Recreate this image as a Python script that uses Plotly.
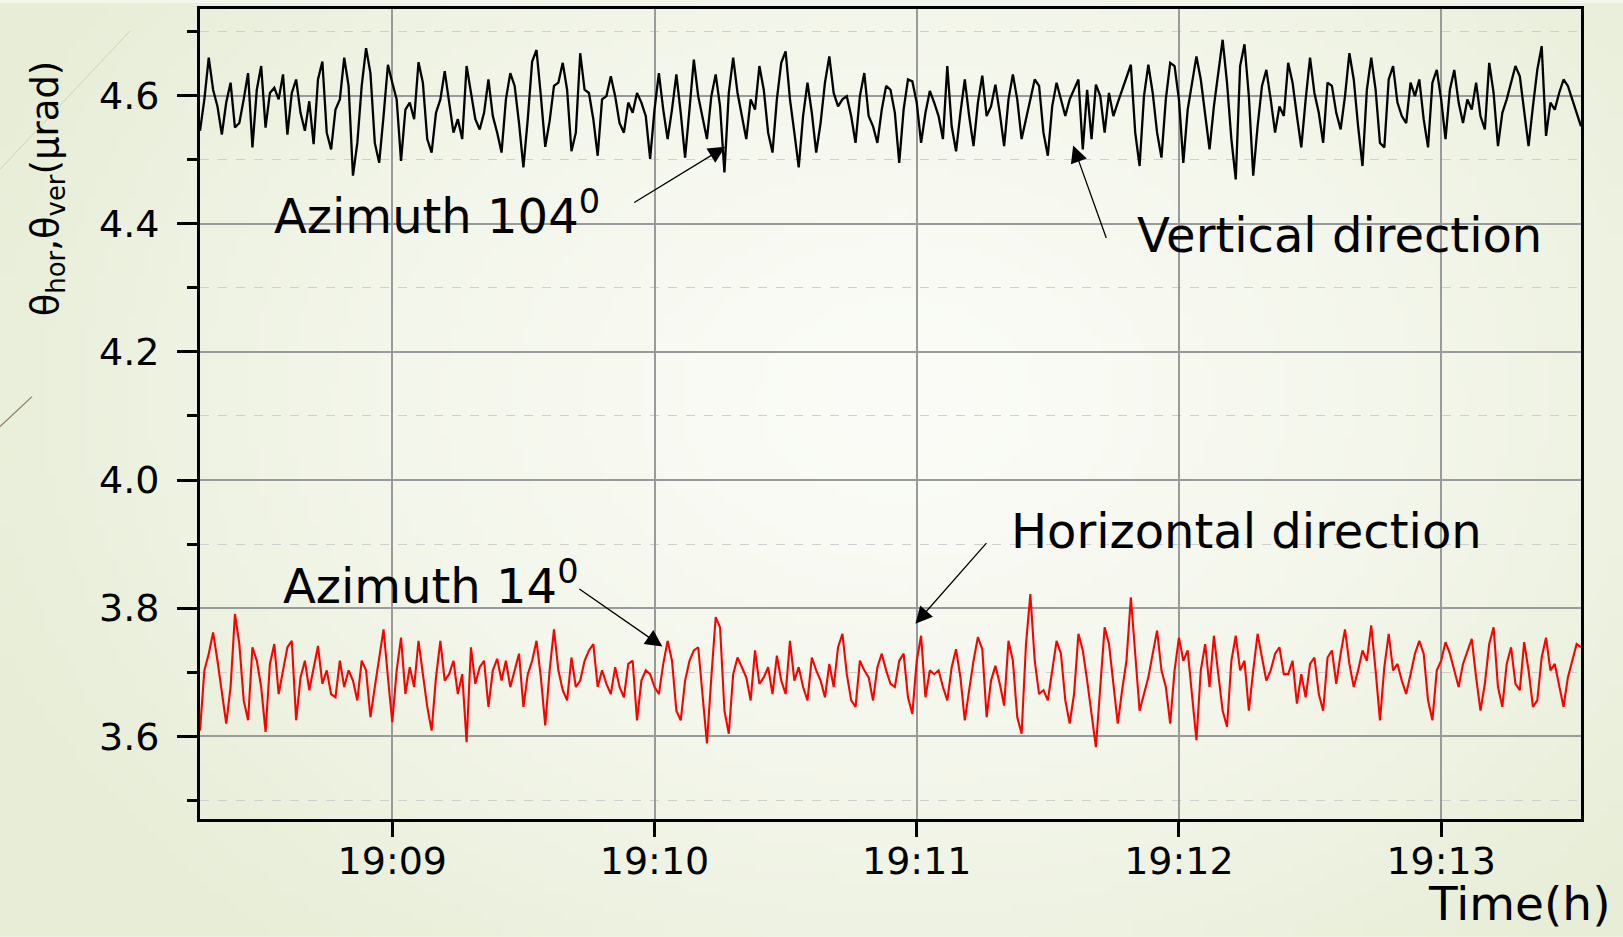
import base64
import struct
import zlib
from datetime import datetime, timedelta

import numpy as np
import pandas as pd
import plotly.graph_objects as go

# ---------------- data (1 s sampling) ----------------
start_time = "2000-01-01 19:08:16"

vertical_dir = [  # theta_ver, black trace (urad)
    4.545, 4.594, 4.659, 4.609, 4.583, 4.539, 4.589, 4.620, 4.550, 4.557,
    4.594, 4.635, 4.519, 4.609, 4.646, 4.550, 4.604, 4.612, 4.594, 4.633,
    4.539, 4.604, 4.625, 4.573, 4.545, 4.591, 4.524, 4.625, 4.653, 4.542,
    4.516, 4.578, 4.594, 4.659, 4.615, 4.475, 4.526, 4.615, 4.674, 4.635,
    4.526, 4.495, 4.568, 4.648, 4.620, 4.594, 4.498, 4.578, 4.589, 4.563,
    4.652, 4.620, 4.532, 4.511, 4.573, 4.594, 4.638, 4.589, 4.542, 4.563,
    4.532, 4.646, 4.607, 4.563, 4.547, 4.573, 4.625, 4.568, 4.542, 4.511,
    4.594, 4.635, 4.615, 4.557, 4.488, 4.563, 4.653, 4.671, 4.599, 4.520,
    4.560, 4.615, 4.620, 4.651, 4.609, 4.513, 4.542, 4.666, 4.609, 4.604,
    4.563, 4.506, 4.594, 4.599, 4.630, 4.599, 4.557, 4.542, 4.589, 4.573,
    4.604, 4.589, 4.568, 4.501, 4.578, 4.635, 4.578, 4.532, 4.578, 4.633,
    4.573, 4.503, 4.578, 4.656, 4.599, 4.563, 4.532, 4.599, 4.633, 4.583,
    4.480, 4.604, 4.659, 4.604, 4.568, 4.532, 4.594, 4.578, 4.646, 4.609,
    4.542, 4.511, 4.594, 4.651, 4.669, 4.594, 4.542, 4.488, 4.568, 4.620,
    4.573, 4.511, 4.557, 4.620, 4.661, 4.604, 4.583, 4.594, 4.599, 4.568,
    4.526, 4.599, 4.635, 4.568, 4.552, 4.526, 4.578, 4.615, 4.609, 4.573,
    4.495, 4.578, 4.625, 4.622, 4.589, 4.526, 4.573, 4.607, 4.589, 4.568,
    4.532, 4.646, 4.552, 4.513, 4.573, 4.625, 4.568, 4.521, 4.589, 4.631,
    4.568, 4.583, 4.617, 4.573, 4.521, 4.594, 4.633, 4.594, 4.532, 4.563,
    4.589, 4.625, 4.615, 4.542, 4.506, 4.583, 4.620, 4.594, 4.568, 4.594,
    4.609, 4.625, 4.516, 4.609, 4.532, 4.617, 4.599, 4.542, 4.604, 4.568,
    4.589, 4.609, 4.630, 4.648, 4.542, 4.490, 4.599, 4.648, 4.604, 4.542,
    4.503, 4.594, 4.651, 4.646, 4.594, 4.495, 4.578, 4.620, 4.661, 4.625,
    4.568, 4.516, 4.583, 4.635, 4.687, 4.620, 4.532, 4.469, 4.646, 4.680,
    4.599, 4.475, 4.552, 4.615, 4.640, 4.594, 4.542, 4.583, 4.568, 4.651,
    4.620, 4.568, 4.519, 4.594, 4.659, 4.604, 4.573, 4.526, 4.620, 4.615,
    4.573, 4.547, 4.599, 4.666, 4.625, 4.552, 4.490, 4.609, 4.659, 4.609,
    4.526, 4.519, 4.625, 4.646, 4.589, 4.568, 4.557, 4.620, 4.599, 4.625,
    4.563, 4.519, 4.620, 4.640, 4.594, 4.532, 4.609, 4.640, 4.589, 4.557,
    4.594, 4.578, 4.620, 4.568, 4.547, 4.651, 4.604, 4.521, 4.573, 4.594,
    4.620, 4.646, 4.630, 4.578, 4.521, 4.583, 4.640, 4.677, 4.537, 4.589,
    4.578, 4.604, 4.625, 4.615, 4.594, 4.573, 4.552,
]

horizontal_dir = [  # theta_hor, red trace (urad)
    3.609, 3.703, 3.729, 3.762, 3.718, 3.666, 3.620, 3.677, 3.791, 3.744,
    3.656, 3.625, 3.739, 3.718, 3.677, 3.607, 3.713, 3.744, 3.666, 3.703,
    3.739, 3.749, 3.625, 3.692, 3.718, 3.672, 3.708, 3.741, 3.682, 3.703,
    3.666, 3.661, 3.718, 3.677, 3.703, 3.687, 3.656, 3.718, 3.703, 3.630,
    3.677, 3.723, 3.767, 3.692, 3.622, 3.703, 3.754, 3.666, 3.708, 3.677,
    3.749, 3.697, 3.646, 3.609, 3.692, 3.749, 3.687, 3.697, 3.718, 3.666,
    3.697, 3.591, 3.739, 3.682, 3.708, 3.718, 3.646, 3.703, 3.721, 3.687,
    3.718, 3.677, 3.703, 3.729, 3.646, 3.697, 3.718, 3.749, 3.692, 3.617,
    3.703, 3.767, 3.703, 3.672, 3.656, 3.723, 3.677, 3.687, 3.718, 3.734,
    3.744, 3.677, 3.703, 3.682, 3.666, 3.708, 3.677, 3.661, 3.713, 3.718,
    3.625, 3.687, 3.703, 3.697, 3.677, 3.666, 3.713, 3.749, 3.718, 3.640,
    3.625, 3.687, 3.718, 3.734, 3.739, 3.666, 3.589, 3.692, 3.786, 3.770,
    3.640, 3.604, 3.697, 3.723, 3.708, 3.692, 3.656, 3.734, 3.682, 3.692,
    3.708, 3.666, 3.726, 3.687, 3.666, 3.749, 3.687, 3.708, 3.677, 3.656,
    3.723, 3.703, 3.687, 3.661, 3.713, 3.677, 3.739, 3.760, 3.697, 3.656,
    3.646, 3.718, 3.703, 3.692, 3.656, 3.708, 3.729, 3.703, 3.682, 3.677,
    3.718, 3.729, 3.661, 3.635, 3.718, 3.757, 3.661, 3.703, 3.697, 3.703,
    3.677, 3.656, 3.708, 3.736, 3.692, 3.625, 3.672, 3.718, 3.755, 3.736,
    3.630, 3.687, 3.710, 3.682, 3.648, 3.749, 3.718, 3.630, 3.604, 3.744,
    3.822, 3.718, 3.666, 3.672, 3.656, 3.703, 3.749, 3.729, 3.656, 3.620,
    3.666, 3.760, 3.734, 3.687, 3.635, 3.583, 3.677, 3.770, 3.744, 3.677,
    3.620, 3.672, 3.718, 3.817, 3.734, 3.640, 3.666, 3.692, 3.729, 3.765,
    3.703, 3.677, 3.620, 3.703, 3.754, 3.718, 3.734, 3.666, 3.594, 3.703,
    3.744, 3.677, 3.757, 3.697, 3.640, 3.615, 3.718, 3.757, 3.703, 3.718,
    3.640, 3.703, 3.760, 3.723, 3.687, 3.703, 3.729, 3.739, 3.697, 3.697,
    3.718, 3.651, 3.697, 3.661, 3.713, 3.723, 3.666, 3.640, 3.723, 3.734,
    3.682, 3.729, 3.767, 3.713, 3.677, 3.703, 3.734, 3.718, 3.773, 3.703,
    3.625, 3.708, 3.760, 3.703, 3.713, 3.687, 3.666, 3.697, 3.729, 3.749,
    3.729, 3.656, 3.625, 3.703, 3.718, 3.747, 3.729, 3.703, 3.677, 3.713,
    3.734, 3.752, 3.692, 3.640, 3.682, 3.744, 3.770, 3.677, 3.646, 3.713,
    3.739, 3.682, 3.672, 3.747, 3.703, 3.646, 3.656, 3.723, 3.754, 3.703,
    3.713, 3.677, 3.646, 3.692, 3.718, 3.744, 3.739,
]

y_tick_values = [3.6, 3.8, 4.0, 4.2, 4.4, 4.6]
y_tick_labels = ["3.6", "3.8", "4.0", "4.2", "4.4", "4.6"]
x_tick_values = ["2000-01-01 19:09", "2000-01-01 19:10", "2000-01-01 19:11",
                 "2000-01-01 19:12", "2000-01-01 19:13"]
x_tick_labels = ["19:09", "19:10", "19:11", "19:12", "19:13"]

times = pd.date_range(start_time, periods=len(vertical_dir), freq="1s")

# ---------------- layout geometry ----------------
W, H = 1623, 937
L, R, T, B = 200, 42, 6, 118
PW, PH = W - L - R, H - T - B

def px(x):
    return (x - L) / PW

def py(y):
    return (H - B - y) / PH

def tstr(sec_from_1909):
    d = datetime(2000, 1, 1, 19, 9, 0) + timedelta(seconds=sec_from_1909)
    return d.strftime("%Y-%m-%d %H:%M:%S.%f")

# ---------------- background gradient image ----------------
def gradient_png(w, h):
    yy, xx = np.mgrid[0:h, 0:w]
    cx, cy = 0.55 * w, 0.42 * h
    d = np.sqrt(((xx - cx) / (0.62 * w)) ** 2 + ((yy - cy) / (0.8 * h)) ** 2)
    d = np.clip(d, 0, 1) ** 1.4
    c0 = np.array([251, 252, 247], dtype=float)
    c1 = np.array([231, 237, 214], dtype=float)
    img = (c0 + (c1 - c0) * d[..., None]).astype(np.uint8)
    raw = b"".join(b"\x00" + img[r].tobytes() for r in range(h))

    def chunk(tag, data):
        return (struct.pack(">I", len(data)) + tag + data
                + struct.pack(">I", zlib.crc32(tag + data) & 0xFFFFFFFF))

    png = (b"\x89PNG\r\n\x1a\n"
           + chunk(b"IHDR", struct.pack(">IIBBBBB", w, h, 8, 2, 0, 0, 0))
           + chunk(b"IDAT", zlib.compress(raw, 9))
           + chunk(b"IEND", b""))
    return "data:image/png;base64," + base64.b64encode(png).decode()

FONT = "DejaVu Sans"

fig = go.Figure()
fig.add_trace(go.Scatter(x=times, y=vertical_dir, mode="lines",
                         line=dict(color="#000000", width=2.3),
                         name="Vertical direction", showlegend=False))
fig.add_trace(go.Scatter(x=times, y=horizontal_dir, mode="lines",
                         line=dict(color="#ff0000", width=2.1),
                         name="Horizontal direction", showlegend=False))

t_start = times[0]
t_end = times[-1]

fig.update_layout(
    width=W, height=H,
    margin=dict(l=L, r=R, t=T, b=B, pad=0),
    paper_bgcolor="#f3f6ea",
    plot_bgcolor="rgba(0,0,0,0)",
    font=dict(family=FONT, color="black"),
    images=[dict(source=gradient_png(160, 94), xref="paper", yref="paper",
                 x=px(0), y=py(0), sizex=W / PW, sizey=H / PH,
                 xanchor="left", yanchor="top", sizing="stretch",
                 layer="below")],
    xaxis=dict(
        type="date", range=[t_start, t_end],
        tickvals=x_tick_values, ticktext=x_tick_labels,
        ticks="outside", ticklen=15, tickwidth=3, tickcolor="black",
        tickfont=dict(family=FONT, size=38, color="black"),
        showline=True, linecolor="black", linewidth=3, mirror=True,
        showgrid=True, gridcolor="#9a9a9a", gridwidth=1.5,
        zeroline=False, ticklabelstandoff=-9,
    ),
    yaxis=dict(
        range=[3.471, 4.735],
        tickvals=y_tick_values, ticktext=y_tick_labels,
        ticks="outside", ticklen=20, tickwidth=3, tickcolor="black",
        tickfont=dict(family=FONT, size=38, color="black"),
        showline=True, linecolor="black", linewidth=3, mirror=True,
        showgrid=True, gridcolor="#9a9a9a", gridwidth=1.5,
        zeroline=False, ticklabelstandoff=10,
        minor=dict(tick0=3.5, dtick=0.1, ticks="outside", ticklen=10,
                   tickwidth=3, tickcolor="black", showgrid=True,
                   gridcolor="#cfcfcf", griddash="dash", gridwidth=1),
    ),
)

# decorative slide lines at the left edge
fig.add_shape(type="line", xref="paper", yref="paper",
              x0=px(0), y0=py(167), x1=px(130), y1=py(28),
              line=dict(color="#cfcfb8", width=1), layer="below")
fig.add_shape(type="line", xref="paper", yref="paper",
              x0=px(0), y0=py(425), x1=px(32), y1=py(395),
              line=dict(color="#8c7a5c", width=1.2), layer="below")

ann_font = dict(family=FONT, size=48, color="black")

# arrows (tip in data space, tail as pixel offset)
arrows = [
    (tstr(76.2), 4.520, -93, 57),
    (tstr(155.8), 4.522, 34, 95),
    (tstr(119.7), 3.7756, 73, -83),
    (tstr(61.8), 3.740, -85, -59),
]
for xa, ya, ax, ay in arrows:
    fig.add_annotation(x=xa, y=ya, xref="x", yref="y", text=" ",
                       showarrow=True, ax=ax, ay=ay, arrowhead=2,
                       arrowsize=2.6, arrowwidth=1.3, arrowcolor="black",
                       standoff=0, font=dict(size=2))

labels = [
    ("Azimuth 104<sup>0</sup>", tstr(-27.5), 4.416),
    ("Vertical direction", tstr(169.9), 4.382),
    ("Horizontal direction", tstr(141.1), 3.920),
    ("Azimuth 14<sup>0</sup>", tstr(-25.4), 3.839),
]
for txt, xa, ya in labels:
    fig.add_annotation(x=xa, y=ya, xref="x", yref="y", text=txt,
                       showarrow=False, xanchor="left", yanchor="middle",
                       font=ann_font)

# axis titles as free text
fig.add_annotation(x=px(48), y=py(186), xref="paper", yref="paper",
                   text="θ<sub>hor</sub>,θ<sub>ver</sub>(μrad)",
                   textangle=-90, showarrow=False,
                   xanchor="center", yanchor="middle",
                   font=dict(family=FONT, size=37, color="black"))
fig.add_annotation(x=px(1612), y=py(904), xref="paper", yref="paper",
                   text="Time(h)", showarrow=False,
                   xanchor="right", yanchor="middle",
                   font=dict(family=FONT, size=47, color="black"))

fig.write_html("out.html")
